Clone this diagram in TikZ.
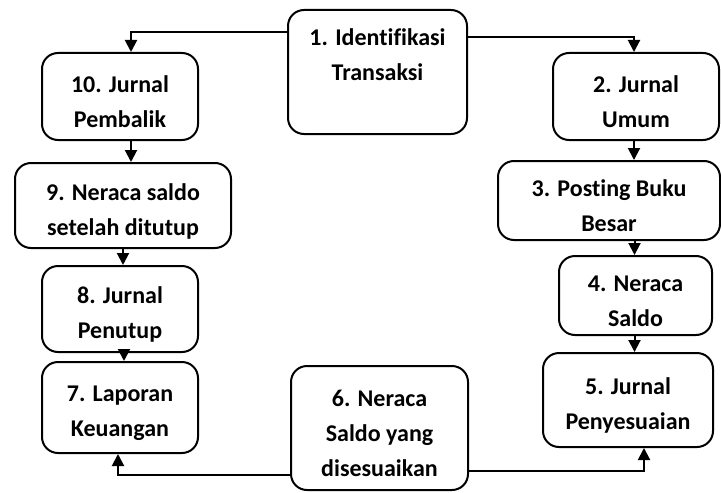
\documentclass[tikz,border=0pt]{standalone}
\usepackage{fontspec}
\setmainfont[Ligatures=NoCommon]{Carlito}
\usetikzlibrary{arrows.meta,calc}
\newcommand\topsp{\rule{0pt}{14pt}}
\begin{document}
\begin{tikzpicture}[x=0.5pt,y=-0.5pt,
  box/.style={draw, line width=1pt, rounded corners=8pt, align=center,
    font=\fontsize{12}{17.5}\selectfont\bfseries, inner sep=0pt},
  arr/.style={line width=1pt, -{Triangle[width=6pt,length=6pt]}}]
\useasboundingbox (0,0) rectangle (721,492);
\node[box, minimum width=89.5pt, minimum height=62pt] (n1) at (377.5,72)
  {\parbox[c][58pt][t]{85pt}{\centering\vspace*{7.5pt}1. Identifikasi\\Transaksi}};
\node[box, minimum width=83pt, minimum height=43.5pt] (n2) at (636,96.5) {\topsp 2. Jurnal\\Umum};
\node[box, minimum width=111pt, minimum height=39.5pt] (n3) at (609,200.5) {\topsp 3. Posting Buku\\Besar};
\node[box, minimum width=76.5pt, minimum height=39.5pt] (n4) at (635.5,295.5) {\topsp 4. Neraca\\Saldo};
\node[box, minimum width=85pt, minimum height=47pt] (n5) at (628,400) {\topsp 5. Jurnal\\Penyesuaian};
\node[box, minimum width=88.5pt, minimum height=62pt] (n6) at (379.5,428) {\topsp 6. Neraca\\Saldo yang\\disesuaikan};
\node[box, minimum width=78pt, minimum height=45.5pt] (n7) at (120,407.5) {\topsp 7. Laporan\\Keuangan};
\node[box, minimum width=78pt, minimum height=43pt] (n8) at (120,309) {\topsp 8. Jurnal\\Penutup};
\node[box, minimum width=108pt, minimum height=42.5pt] (n9) at (123,205.5) {\topsp 9. Neraca saldo\\setelah ditutup};
\node[box, minimum width=78pt, minimum height=43.5pt] (n10) at (120,96.5) {\topsp 10. Jurnal\\Pembalik};
% connectors
\draw[arr] ($(n1.north west)+(0,23)$) -| ($(n10.north)+(11,0)$);
\draw[arr] ($(n1.north east)+(0,28)$) -| ($(n2.north)+(-2,0)$);
\draw[arr] ($(n2.south)+(-2,0)$) -- ($(n2.south |- n3.north)+(-2,0)$);
\draw[arr] ($(n4.north |- n3.south)+(-1,0)$) -- ($(n4.north)+(-1,0)$);
\draw[arr] ($(n4.south)+(-1,0)$) -- ($(n4.south |- n5.north)+(-1,0)$);
\draw[arr] ($(n6.south east)+(0,-20)$) -| ($(n5.south)+(16,0)$);
\draw[arr] ($(n6.south west)+(0,-16)$) -| ($(n7.south)+(-2,0)$);
\draw[arr] ($(n10.south)+(11,0)$) -- ($(n10.south |- n9.north)+(11,0)$);
\draw[arr] (n9.south) -- (n9.south |- n8.north);
\draw[arr] ($(n8.south)+(4,0)$) -- ($(n8.south |- n7.north)+(4,0)$);
\end{tikzpicture}
\end{document}
